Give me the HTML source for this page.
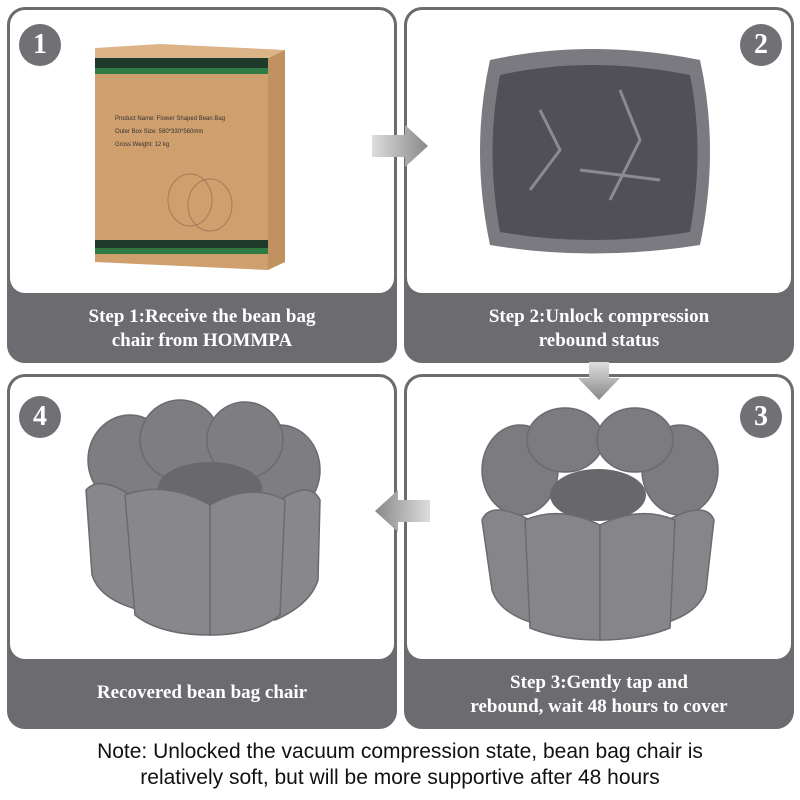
<!DOCTYPE html>
<html><head><style>
body{margin:0;width:800px;height:800px;background:#fff;position:relative;overflow:hidden;font-family:"Liberation Serif",serif}
.p{position:absolute;border:3px solid #6b6b70;border-radius:18px;background:#6b6b70;box-sizing:border-box;overflow:hidden}
.w{position:absolute;left:0;top:0;right:0;background:#fff;border-radius:0 0 15px 15px}
.c{position:absolute;left:0;right:0;bottom:0;color:#fff;font-weight:bold;font-size:19px;text-align:center;line-height:24px;display:flex;align-items:center;justify-content:center}
.b{position:absolute;width:42px;height:42px;border-radius:50%;background:#707075;color:#fff;font-weight:bold;font-size:28px;text-align:center;line-height:42px}
.note{position:absolute;left:0;right:0;top:739px;text-align:center;font-family:"Liberation Sans",sans-serif;font-size:21px;line-height:26px;color:#111}
svg{position:absolute}
</style></head><body>
<div class="p" style="left:7px;top:7px;width:390px;height:356px"><div class="w" style="height:283px"></div><div class="c" style="height:62px">Step 1:Receive the bean bag<br>chair from HOMMPA</div></div>
<div class="p" style="left:404px;top:7px;width:390px;height:356px"><div class="w" style="height:283px"></div><div class="c" style="height:62px">Step 2:Unlock compression<br>rebound status</div></div>
<div class="p" style="left:7px;top:374px;width:390px;height:355px"><div class="w" style="height:282px"></div><div class="c" style="height:66px">Recovered bean bag chair</div></div>
<div class="p" style="left:404px;top:374px;width:390px;height:355px"><div class="w" style="height:282px"></div><div class="c" style="height:62px">Step 3:Gently tap and<br>rebound, wait 48 hours to cover</div></div>
<div class="b" style="left:19px;top:24px">1</div>
<div class="b" style="left:740px;top:24px">2</div>
<div class="b" style="left:740px;top:396px">3</div>
<div class="b" style="left:19px;top:396px">4</div>
<svg width="800" height="740" style="left:0;top:0">
<defs><linearGradient id="ga" x1="0" x2="1"><stop offset="0" stop-color="#ddd"/><stop offset="1" stop-color="#888"/></linearGradient>
<linearGradient id="gd" x1="0" y1="0" x2="0" y2="1"><stop offset="0" stop-color="#ddd"/><stop offset="1" stop-color="#888"/></linearGradient>
<linearGradient id="gl" x1="1" x2="0"><stop offset="0" stop-color="#ddd"/><stop offset="1" stop-color="#888"/></linearGradient></defs>
<!-- box -->
<polygon points="95,58 268,58 268,270 95,262" fill="#cf9f6e"/>
<polygon points="95,48 160,44 285,50 268,58 95,58" fill="#ddb487"/>
<polygon points="268,58 285,50 285,262 268,270" fill="#c0925f"/>
<rect x="95" y="58" width="173" height="10" fill="#1f3a2a"/><rect x="95" y="68" width="173" height="6" fill="#2f7a45"/>
<rect x="95" y="240" width="173" height="8" fill="#1f3a2a"/><rect x="95" y="248" width="173" height="6" fill="#2f7a45"/>
<g fill="none" stroke="#a47c58" stroke-width="1"><ellipse cx="190" cy="200" rx="22" ry="26"/><ellipse cx="210" cy="205" rx="22" ry="26"/></g>
<text x="115" y="120" font-size="6" fill="#333" font-family="Liberation Sans">Product Name: Flower Shaped Bean Bag</text>
<text x="115" y="133" font-size="6" fill="#333" font-family="Liberation Sans">Outer Box Size: 580*330*560mm</text>
<text x="115" y="146" font-size="6" fill="#333" font-family="Liberation Sans">Gross Weight: 12 kg</text>
<!-- compressed -->
<path d="M490,60 Q590,38 700,60 Q720,150 700,245 Q590,262 490,245 Q470,150 490,60Z" fill="#7a7a80"/>
<path d="M500,75 Q590,55 690,75 Q705,150 690,232 Q590,248 500,232 Q485,150 500,75Z" fill="#505056"/>
<path d="M540,110 L560,150 L530,190 M620,90 L640,140 L610,200 M580,170 L660,180" stroke="#8a8a90" stroke-width="3" fill="none"/>
<!-- chair 3 -->
<g fill="#7b7b80" stroke="#6a6a6f" stroke-width="1.5">
<ellipse cx="520" cy="470" rx="38" ry="45"/><ellipse cx="680" cy="470" rx="38" ry="45"/>
<ellipse cx="565" cy="440" rx="38" ry="32"/><ellipse cx="635" cy="440" rx="38" ry="32"/>
</g>
<ellipse cx="598" cy="495" rx="48" ry="26" fill="#67676c"/>
<g fill="#85858a" stroke="#6a6a6f" stroke-width="1.5">
<path d="M482,520 Q490,500 530,520 L540,625 Q500,615 492,590Z"/>
<path d="M714,520 Q706,500 668,520 L658,625 Q698,615 706,590Z"/>
<path d="M525,520 Q560,505 600,525 L600,640 Q560,640 530,628Z"/>
<path d="M675,520 Q640,505 600,525 L600,640 Q640,640 670,628Z"/>
</g>
<!-- chair 4 -->
<g fill="#7d7d82" stroke="#6a6a6f" stroke-width="1.5">
<ellipse cx="130" cy="460" rx="42" ry="45"/><ellipse cx="280" cy="470" rx="40" ry="45"/>
<ellipse cx="180" cy="440" rx="40" ry="40"/><ellipse cx="245" cy="440" rx="38" ry="38"/>
</g>
<ellipse cx="210" cy="488" rx="52" ry="26" fill="#68686d"/>
<g fill="#87878c" stroke="#6a6a6f" stroke-width="1.5">
<path d="M86,490 Q100,475 130,495 L140,610 Q100,600 92,575Z"/>
<path d="M320,500 Q310,480 280,500 L275,620 Q310,605 318,580Z"/>
<path d="M125,495 Q165,480 210,505 L210,635 Q160,635 135,615Z"/>
<path d="M285,500 Q250,482 210,505 L210,635 Q255,635 280,615Z"/>
</g>
<!-- arrows -->
<polygon points="372,135 405,135 405,125 428,146 405,167 405,157 372,157" fill="url(#ga)"/>
<polygon points="589,362 609,362 609,378 620,378 599,400 578,378 589,378" fill="url(#gd)"/>
<polygon points="430,500 398,500 398,490 375,511 398,532 398,522 430,522" fill="url(#gl)"/>
</svg>
<div class="note">Note: Unlocked the vacuum compression state, bean bag chair is<br>relatively soft, but will be more supportive after 48 hours</div>
</body></html>
